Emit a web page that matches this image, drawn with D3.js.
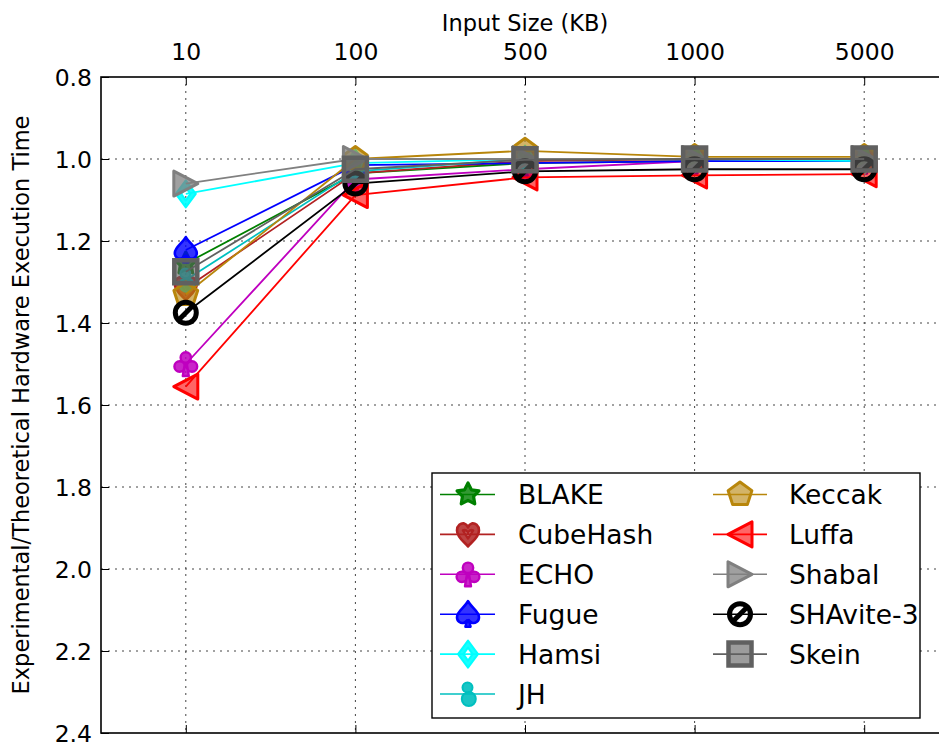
<!DOCTYPE html>
<html>
<head>
<meta charset="utf-8">
<script src="https://cdn.jsdelivr.net/npm/d3@7"></script>
<style>
  html, body { margin: 0; padding: 0; background: #fff; }
  svg { display: block; font-family: "DejaVu Sans", sans-serif; }
</style>
</head>
<body>
<svg id="chart" width="939" height="742"></svg>
<script>
// Input sizes on the (top) category axis and y tick values
const inputSizes = ["10", "100", "500", "1000", "5000"];
const yTicks = [0.8, 1.0, 1.2, 1.4, 1.6, 1.8, 2.0, 2.2, 2.4];

// Experimental / theoretical execution-time ratio per hash function
const BLAKE    = [1.255, 1.035, 1.010, 1.005, 1.005];
const CubeHash = [1.315, 1.035, 1.005, 1.000, 1.000];
const ECHO     = [1.500, 1.050, 1.025, 1.005, 1.005];
const Fugue    = [1.222, 1.015, 1.010, 1.005, 1.005];
const Hamsi    = [1.085, 1.010, 1.000, 1.000, 1.005];
const JH       = [1.295, 1.030, 1.000, 1.000, 1.000];
const Keccak   = [1.330, 1.000, 0.980, 0.995, 0.995];
const Luffa    = [1.555, 1.088, 1.045, 1.040, 1.037];
const Shabal   = [1.060, 1.000, 1.000, 1.000, 1.000];
const SHAvite3 = [1.375, 1.060, 1.030, 1.025, 1.025];
const Skein    = [1.275, 1.025, 1.002, 1.000, 1.000];

const seriesNames  = ["BLAKE", "CubeHash", "ECHO", "Fugue", "Hamsi", "JH",
                      "Keccak", "Luffa", "Shabal", "SHAvite-3", "Skein"];
const seriesValues = [BLAKE, CubeHash, ECHO, Fugue, Hamsi, JH,
                      Keccak, Luffa, Shabal, SHAvite3, Skein];

// Visual style for each series: colour and marker shape
const styles = {
  "BLAKE":     { color: "#008000", marker: "star" },
  "CubeHash":  { color: "#b22222", marker: "heart" },
  "ECHO":      { color: "#bf00bf", marker: "club" },
  "Fugue":     { color: "#0000ff", marker: "spade" },
  "Hamsi":     { color: "#00ffff", marker: "diamond" },
  "JH":        { color: "#00bfbf", marker: "peanut" },
  "Keccak":    { color: "#b8860b", marker: "pentagon" },
  "Luffa":     { color: "#ff0000", marker: "triLeft" },
  "Shabal":    { color: "#808080", marker: "triRight" },
  "SHAvite-3": { color: "#000000", marker: "oslash" },
  "Skein":     { color: "#606060", marker: "square" }
};

const plot = { left: 101, top: 77, right: 949, bottom: 733 };

const svg = d3.select("#chart");

const x = d3.scalePoint().domain(inputSizes).range([plot.left, plot.right]).padding(0.5);
const y = d3.scaleLinear().domain([0.8, 2.4]).range([plot.top, plot.bottom]);

// ---------- marker shapes ----------
function circlePath(cx, cy, r) {
  return `M${cx - r},${cy}a${r},${r} 0 1,0 ${2 * r},0a${r},${r} 0 1,0 ${-2 * r},0Z`;
}
function polygonPath(pts) {
  return "M" + pts.map(p => p.join(",")).join("L") + "Z";
}
function regularPolygon(n, R, rot) {
  const pts = [];
  for (let i = 0; i < n; i++) {
    const a = rot + i * 2 * Math.PI / n;
    pts.push([R * Math.cos(a), R * Math.sin(a)]);
  }
  return pts;
}
function starPoints(R, r) {
  const pts = [];
  for (let i = 0; i < 10; i++) {
    const a = -Math.PI / 2 + i * Math.PI / 5;
    const rr = i % 2 === 0 ? R : r;
    pts.push([rr * Math.cos(a), rr * Math.sin(a)]);
  }
  return pts;
}

function drawMarker(g, kind, color) {
  const m = g.append("g");
  const base = { fill: color, "fill-opacity": 0.62, stroke: color, "stroke-width": 3, "stroke-linejoin": "round" };
  const add = (d, attrs) => {
    const p = m.append("path").attr("d", d);
    Object.entries(Object.assign({}, base, attrs || {})).forEach(([k, v]) => p.attr(k, v));
    return p;
  };
  switch (kind) {
    case "star":
      add(polygonPath(starPoints(11.5, 5.8)), { "stroke-width": 3.2, "fill-opacity": 0.8 });
      break;
    case "heart":
      add("M0,12 C-3,8 -11,3 -11,-4 C-11,-9 -7,-11.5 -4,-11 C-2,-10.5 -0.7,-9 0,-7 C0.7,-9 2,-10.5 4,-11 C7,-11.5 11,-9 11,-4 C11,3 3,8 0,12 Z" +
          "M0,4 L-5,-4 C-3,-5 -1,-4 0,-1 C1,-4 3,-5 5,-4 Z",
          { "fill-rule": "evenodd", "fill-opacity": 0.85, "stroke-width": 2.6 });
      break;
    case "club":
      add(circlePath(0, -6.5, 5.2) + circlePath(-6.2, 2.5, 5.2) + circlePath(6.2, 2.5, 5.2) +
          "M-1.2,1 L1.2,1 L3,12 L-3,12 Z", { "fill-opacity": 0.85, "stroke-width": 2.4 });
      break;
    case "spade":
      add("M0,-13 C3,-7 11,-3 11,3 C11,7.5 7,9.5 4,8.5 C2.5,8 1.3,7 0.8,6 L2.5,12.5 L-2.5,12.5 L-0.8,6 C-1.3,7 -2.5,8 -4,8.5 C-7,9.5 -11,7.5 -11,3 C-11,-3 -3,-7 0,-13 Z",
          { "fill-opacity": 0.8, "stroke-width": 2.6 });
      break;
    case "diamond":
      add("M0,-13.5 L10,0 L0,13.5 L-10,0 Z M0,-6.5 L4.6,0 L0,6.5 L-4.6,0 Z",
          { "fill-rule": "evenodd", "fill-opacity": 0.9, "stroke-width": 2 });
      break;
    case "peanut":
      add(circlePath(-0.5, -6.5, 5) + circlePath(0.8, 5, 7), { "fill-opacity": 0.9, "stroke-width": 2 });
      break;
    case "pentagon":
      add(polygonPath(regularPolygon(5, 12.5, -Math.PI / 2)), { "stroke-width": 3 });
      break;
    case "triLeft":
      add(polygonPath([[-12, 0], [12, -12.5], [12, 12.5]]), { "stroke-width": 3, "fill-opacity": 0.6 });
      break;
    case "triRight":
      add(polygonPath([[12, 0], [-12, -12.5], [-12, 12.5]]), { "stroke-width": 3, "fill-opacity": 0.75 });
      break;
    case "oslash":
      add(circlePath(0, 0, 10.5), { fill: "none", "stroke-width": 5 });
      add("M-6.5,6.5 L6.5,-6.5", { fill: "none", "stroke-width": 5, "stroke-linecap": "butt" });
      break;
    case "square":
      add("M-11.5,-11.5 H11.5 V11.5 H-11.5 Z", { "stroke-width": 4.5, "fill-opacity": 0.62, "stroke-linejoin": "miter" });
      break;
  }
  return m;
}

// ---------- grid ----------
const grid = svg.append("g").attr("class", "grid")
  .attr("stroke", "#444").attr("stroke-width", 1).attr("stroke-dasharray", "2,5");
grid.selectAll("line.gx").data(inputSizes).join("line").attr("class", "gx")
  .attr("x1", d => x(d)).attr("x2", d => x(d))
  .attr("y1", plot.top).attr("y2", plot.bottom);
grid.selectAll("line.gy").data(yTicks.slice(1, -1)).join("line").attr("class", "gy")
  .attr("x1", plot.left).attr("x2", plot.right)
  .attr("y1", d => y(d)).attr("y2", d => y(d));

// ---------- series ----------
const line = d3.line().x((d, i) => x(inputSizes[i])).y(d => y(d));
const seriesG = svg.append("g").attr("class", "series");
seriesNames.forEach((name, si) => {
  const st = styles[name];
  const vals = seriesValues[si];
  const g = seriesG.append("g").attr("class", "s-" + si);
  g.append("path").datum(vals).attr("d", line)
    .attr("fill", "none").attr("stroke", st.color).attr("stroke-width", 1.8);
  vals.forEach((v, i) => {
    drawMarker(g, st.marker, st.color)
      .attr("transform", `translate(${x(inputSizes[i])},${y(v)})`);
  });
});

// ---------- axes ----------
const tickFont = "23.5px";
const xAxisTop = d3.axisTop(x).tickSizeInner(-8).tickSizeOuter(0).tickPadding(17);
const gxTop = svg.append("g").attr("transform", `translate(0,${plot.top})`).call(xAxisTop);
gxTop.select(".domain").remove();
gxTop.selectAll("text").attr("font-size", tickFont).attr("font-family", "DejaVu Sans").attr("fill", "#000");
gxTop.selectAll("line").attr("stroke", "#000").attr("stroke-width", 1);

const xAxisBottom = d3.axisBottom(x).tickSizeInner(-8).tickSizeOuter(0).tickFormat("");
const gxBot = svg.append("g").attr("transform", `translate(0,${plot.bottom})`).call(xAxisBottom);
gxBot.select(".domain").remove();
gxBot.selectAll("line").attr("stroke", "#000").attr("stroke-width", 1);

const yAxis = d3.axisLeft(y).tickValues(yTicks).tickFormat(d3.format(".1f"))
  .tickSizeInner(-8).tickSizeOuter(0).tickPadding(9);
const gy = svg.append("g").attr("transform", `translate(${plot.left},0)`).call(yAxis);
gy.select(".domain").remove();
gy.selectAll("text").attr("font-size", tickFont).attr("font-family", "DejaVu Sans").attr("fill", "#000")
  .attr("dy", "0.36em");
gy.selectAll("line").attr("stroke", "#000").attr("stroke-width", 1);

// plot frame
svg.append("rect")
  .attr("x", plot.left).attr("y", plot.top)
  .attr("width", plot.right - plot.left).attr("height", plot.bottom - plot.top)
  .attr("fill", "none").attr("stroke", "#000").attr("stroke-width", 1.6);

// axis titles
svg.append("text")
  .attr("x", (plot.left + plot.right) / 2).attr("y", 31)
  .attr("text-anchor", "middle").attr("font-size", "22.5px").attr("fill", "#000")
  .text("Input Size (KB)");
svg.append("text")
  .attr("transform", `translate(29,${(plot.top + plot.bottom) / 2}) rotate(-90)`)
  .attr("text-anchor", "middle").attr("font-size", "22.5px").attr("fill", "#000")
  .text("Experimental/Theoretical Hardware Execution Time");

// ---------- legend ----------
const legend = svg.append("g").attr("class", "legend");
const lg = { x: 432, y: 473, w: 488, h: 245 };
legend.append("rect")
  .attr("x", lg.x).attr("y", lg.y).attr("width", lg.w).attr("height", lg.h)
  .attr("fill", "#fff").attr("stroke", "#000").attr("stroke-width", 1.4);
const rowY0 = 494.5, rowStep = 39.9;
const cols = [
  { lx1: 440, lx2: 495, mx: 468, tx: 518 },
  { lx1: 713, lx2: 767, mx: 740, tx: 789 }
];
seriesNames.forEach((name, i) => {
  const c = cols[i < 6 ? 0 : 1];
  const row = i < 6 ? i : i - 6;
  const cy = rowY0 + row * rowStep;
  const st = styles[name];
  const item = legend.append("g");
  item.append("line").attr("x1", c.lx1).attr("x2", c.lx2).attr("y1", cy).attr("y2", cy)
    .attr("stroke", st.color).attr("stroke-width", 1.6);
  drawMarker(item, st.marker, st.color).attr("transform", `translate(${c.mx},${cy})`);
  item.append("text").attr("x", c.tx).attr("y", cy).attr("dy", "0.36em")
    .attr("font-size", "26.5px").attr("fill", "#000").text(name);
});
</script>
</body>
</html>
